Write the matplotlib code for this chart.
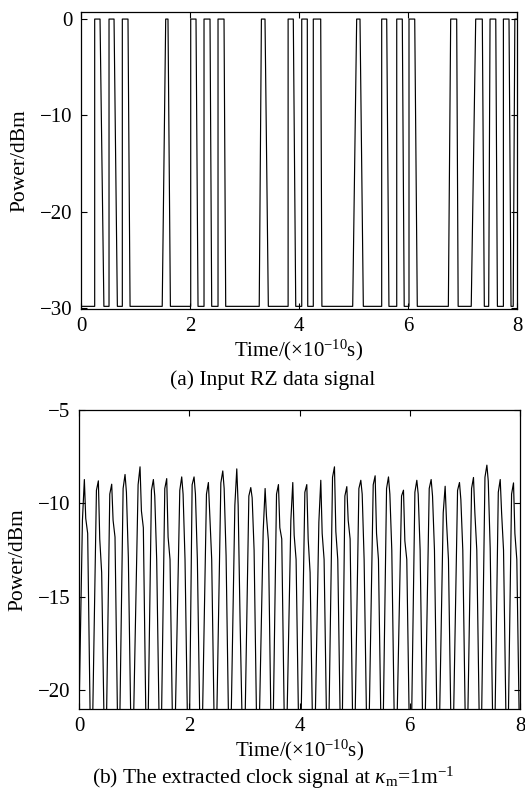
import numpy as np
import matplotlib
matplotlib.use("Agg")
import matplotlib.pyplot as plt

plt.rcParams['font.family'] = ['Liberation Serif', 'DejaVu Serif']
plt.rcParams['mathtext.fontset'] = 'custom'
plt.rcParams['mathtext.rm'] = 'Liberation Serif'
plt.rcParams['mathtext.it'] = 'Liberation Serif:italic'
plt.rcParams['mathtext.bf'] = 'Liberation Serif:bold'

# (a) input RZ data: pulse edges, in units of 1e-10 s
rise_start = [0.251, 0.514, 0.758, 1.49, 2.013, 2.257, 2.514, 3.27, 3.80, 4.05,
              4.262, 4.985, 5.517, 5.793, 6.018, 6.74, 7.16, 7.48, 7.75, 7.93]
top_start = [0.251, 0.514, 0.758, 1.554, 2.013, 2.257, 2.514, 3.31, 3.80, 4.05,
             4.262, 5.058, 5.517, 5.793, 6.018, 6.783, 7.242, 7.505, 7.75, 7.96]
top_end = [0.349, 0.606, 0.862, 1.596, 2.11, 2.367, 2.624, 3.376, 3.895, 4.152,
           4.398, 5.119, 5.609, 5.895, 6.123, 6.893, 7.363, 7.61, 7.853, 8.06]
fall_end = [0.42, 0.667, 0.90, 1.64, 2.147, 2.398, 2.655, 3.437, 3.94, 4.16,
            4.42, 5.18, 5.65, 5.93, 6.17, 6.92, 7.40, 7.64, 7.89, 8.1]
high_dbm = 0.0
low_dbm = -29.85

# (b) extracted clock: per-cycle peak time and levels (dBm)
peak_t = [0.097, 0.351, 0.593, 0.835, 1.107, 1.349, 1.591, 1.863, 2.087, 2.347,
          2.608, 2.862, 3.116, 3.376, 3.618, 3.878, 4.132, 4.386, 4.634, 4.858,
          5.112, 5.372, 5.614, 5.886, 6.128, 6.388, 6.642, 6.902, 7.156, 7.399,
          7.641, 7.882]
peak_db = [-8.72, -8.79, -8.97, -8.45, -8.04, -8.72, -8.67, -8.58, -8.58, -8.88,
           -8.26, -8.15, -9.15, -9.2, -8.99, -8.88, -8.99, -8.76, -8.04, -9.1,
           -8.76, -8.52, -8.58, -9.29, -8.76, -8.72, -9.08, -8.88, -8.61, -7.95,
           -8.72, -8.9]
pre_db = [-10.9, -9.3, -9.5, -9.2, -9.0, -9.3, -9.2, -9.3, -9.0, -9.5,
          -8.9, -10.1, -9.6, -11.5, -9.5, -10.9, -9.4, -11.0, -8.6, -9.6,
          -9.2, -9.0, -9.2, -9.6, -9.4, -9.2, -10.5, -9.3, -9.2, -8.6,
          -9.4, -9.5]
knee1_db = [-10.8, -11.9, -10.9, -9.4, -10.4, -9.6, -11.8, -9.5, -9.5, -10.6,
            -9.2, -10.1, -9.7, -10.7, -11.3, -11.7, -11.9, -11.6, -11.5, -10.9,
            -9.5, -11.6, -9.5, -12.0, -9.5, -9.6, -11.0, -9.8, -10.5, -8.8,
            -10.5, -11.6]
knee2_db = [-11.6, -13.7, -11.8, -12.9, -11.3, -13.0, -13.0, -13.0, -13.0, -13.0,
            -12.8, -16.3, -12.5, -12.0, -11.9, -13.0, -13.7, -13.0, -13.0, -11.9,
            -13.0, -13.0, -12.5, -13.0, -12.5, -12.5, -13.0, -12.5, -12.5, -12.4,
            -12.5, -13.0]
trough_db = -26.0

# build waveforms
ta, pa = [-0.1], [low_dbm]
for r0, t0, t1, f1 in zip(rise_start, top_start, top_end, fall_end):
    ta += [r0, t0, t1, f1]
    pa += [low_dbm, high_dbm, high_dbm, low_dbm]
ta.append(8.2)
pa.append(low_dbm)

tb, pb = [peak_t[0] - 0.125], [trough_db]
for tp, pv, pr, k1, k2 in zip(peak_t, peak_db, pre_db, knee1_db, knee2_db):
    tb += [tp - 0.035, tp, tp + 0.025, tp + 0.06, tp + 0.126]
    pb += [pr, pv, k1, k2, trough_db]

fig = plt.figure(figsize=(5.25, 7.92), dpi=100)
ax1 = fig.add_axes([0.1543, 0.6098, 0.8305, 0.375])
ax2 = fig.add_axes([0.1505, 0.1048, 0.8400, 0.3775])

ax1.plot(ta, pa, color='black', lw=0.85)
ax1.set_xlim(0, 8)
ax1.set_ylim(-30.13, 0.73)
ax1.set_xticks([0, 2, 4, 6, 8])
ax1.set_yticks([0, -10, -20, -30])

ax2.plot(tb, pb, color='black', lw=0.85)
ax2.set_xlim(0, 8)
ax2.set_ylim(-21, -5)
ax2.set_xticks([0, 2, 4, 6, 8])
ax2.set_yticks([-5, -10, -15, -20])

for ax in (ax1, ax2):
    ax.tick_params(direction='in', top=True, right=True, length=4, width=0.8,
                   labelsize=15, pad=6)
    for s in ax.spines.values():
        s.set_linewidth(0.9)
    ax.set_xlabel(r'Time/($\times$10$^{-10}$s)', fontsize=15, labelpad=1)
    ax.set_ylabel('Power/dBm', fontsize=15.5, labelpad=8)

fig.text(0.52, 1 - 380 / 792, '(a) Input RZ data signal', ha='center',
         va='center', fontsize=15.5)
fig.text(0.52, 1 - 778 / 792,
         r'(b) The extracted clock signal at $\kappa_{\rm m}$=1m$^{-1}$',
         ha='center', va='center', fontsize=15.5)

fig.savefig('out.png', dpi=100)
